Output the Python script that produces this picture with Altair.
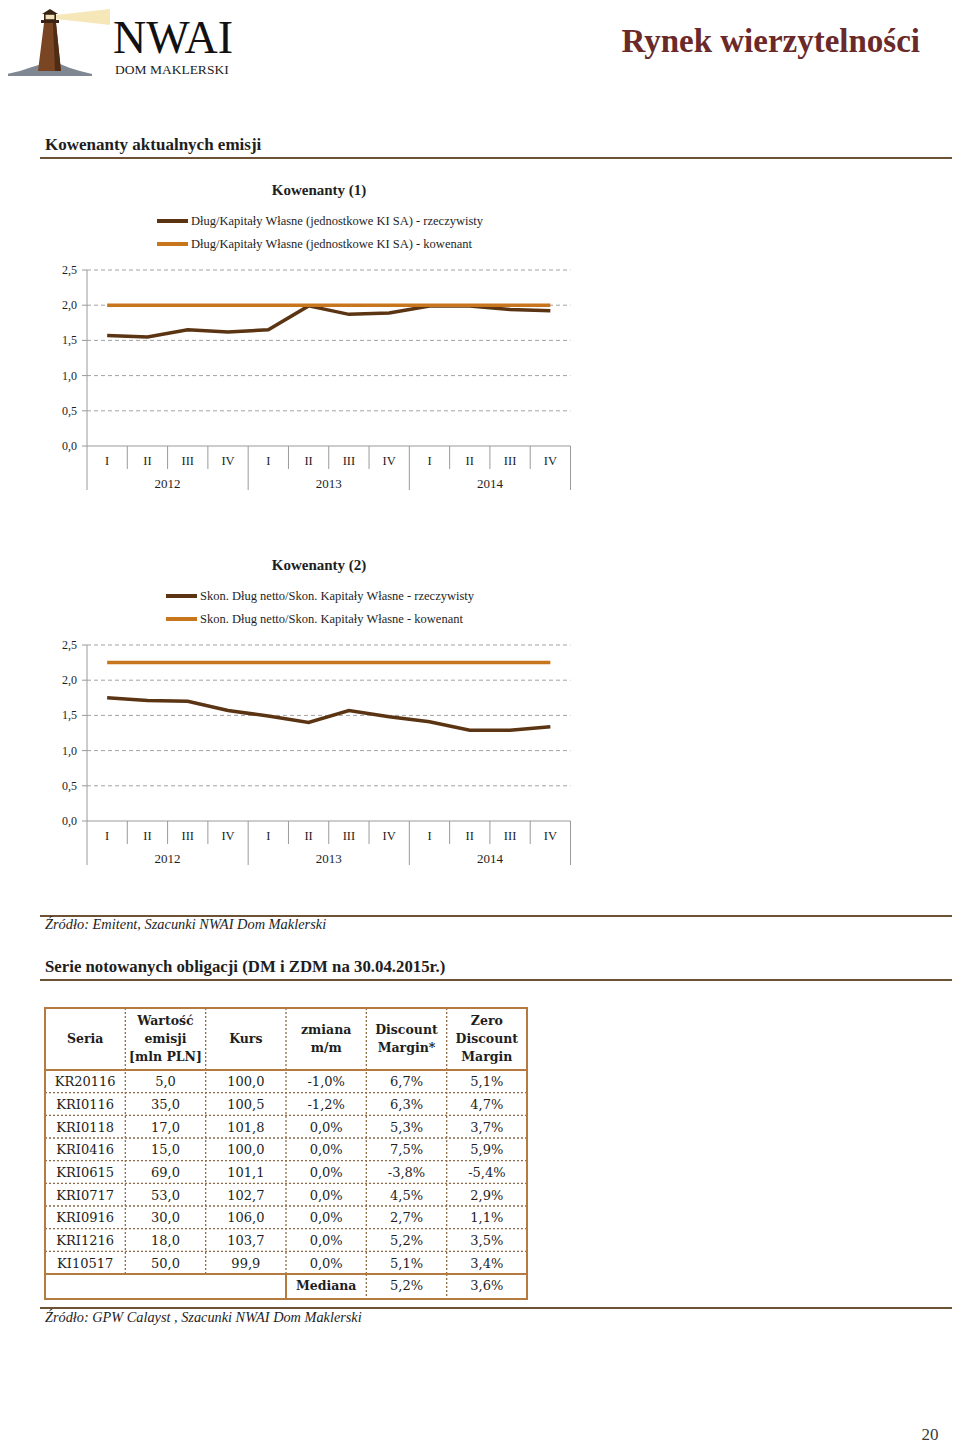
import altair as alt
import pandas as pd

# ---------------- data ----------------
quarters = ["I", "II", "III", "IV"] * 3
years = ["2012", "2013", "2014"]
y_ticks = [0.0, 0.5, 1.0, 1.5, 2.0, 2.5]

c1_title = "Kowenanty (1)"
c1_labels = ["Dług/Kapitały Własne (jednostkowe KI SA) - rzeczywisty",
             "Dług/Kapitały Własne (jednostkowe KI SA) - kowenant"]
c1_actual = [1.57, 1.55, 1.65, 1.62, 1.65, 1.99, 1.87, 1.89, 1.99, 1.99, 1.94, 1.92]
c1_cov = [2.0] * 12

c2_title = "Kowenanty (2)"
c2_labels = ["Skon. Dług netto/Skon. Kapitały Własne - rzeczywisty",
             "Skon. Dług netto/Skon. Kapitały Własne - kowenant"]
c2_actual = [1.75, 1.71, 1.70, 1.57, 1.49, 1.40, 1.57, 1.48, 1.41, 1.29, 1.29, 1.34]
c2_cov = [2.25] * 12

tbl_headers = [["Seria"], ["Wartość", "emisji", "[mln PLN]"], ["Kurs"],
               ["zmiana", "m/m"], ["Discount", "Margin*"], ["Zero", "Discount", "Margin"]]
seria = ["KR20116", "KRI0116", "KRI0118", "KRI0416", "KRI0615", "KRI0717", "KRI0916", "KRI1216", "KI10517"]
wartosc = [5.0, 35.0, 17.0, 15.0, 69.0, 53.0, 30.0, 18.0, 50.0]
kurs = [100.0, 100.5, 101.8, 100.0, 101.1, 102.7, 106.0, 103.7, 99.9]
zmiana = [-1.0, -1.2, 0.0, 0.0, 0.0, 0.0, 0.0, 0.0, 0.0]
dm = [6.7, 6.3, 5.3, 7.5, -3.8, 4.5, 2.7, 5.2, 5.1]
zdm = [5.1, 4.7, 3.7, 5.9, -5.4, 2.9, 1.1, 3.5, 3.4]
median_label = "Mediana"
median_dm = 5.2
median_zdm = 3.6

page_title = "Rynek wierzytelności"
section1 = "Kowenanty aktualnych emisji"
source1 = "Źródło: Emitent, Szacunki NWAI Dom Maklerski"
section2 = "Serie notowanych obligacji (DM i ZDM na 30.04.2015r.)"
source2 = "Źródło: GPW Calayst , Szacunki NWAI Dom Maklerski"
page_no = "20"

# ---------------- styles ----------------
SERIF = "Liberation Serif"
TSERIF = "DejaVu Serif"
DARK = "#5b3413"
ORANGE = "#c8761e"
GRID = "#a3a3a3"
AXIS = "#9a9a9a"
TEXT = "#1e1e1e"
RULE = "#6e5236"
MAROON = "#6b2a2a"
BORDER = "#b57a40"
DASH = "#8c6a48"

OX, OY = 8, 8


def px(x):
    return x - OX


def py(y):
    return y - OY


one = pd.DataFrame({"k": [0]})


def fmt1(v):
    return f"{v:.1f}".replace(".", ",")


def pct(v):
    return f"{v:.1f}%".replace(".", ",")


def text_at(s, x, y, size, weight="normal", style="normal", align="left",
            color=TEXT, font=SERIF, baseline="middle"):
    return alt.Chart(one).mark_text(
        text=s, fontSize=size, fontWeight=weight, fontStyle=style, align=align,
        baseline=baseline, color=color, font=font
    ).encode(x=alt.value(px(x)), y=alt.value(py(y)))


def hrule(y, x1, x2, color, width, dash=None):
    m = dict(color=color, strokeWidth=width)
    if dash:
        m["strokeDash"] = dash
    return alt.Chart(one).mark_rule(**m).encode(
        x=alt.value(px(x1)), x2=alt.value(px(x2)), y=alt.value(py(y)))


def shape_at(path, cx, cy, side, color, opacity=1.0):
    return alt.Chart(one).mark_point(
        shape=path, size=side * side, filled=True, color=color,
        opacity=opacity, strokeWidth=0
    ).encode(x=alt.value(px(cx)), y=alt.value(py(cy)))


layers = []

# ---------------- header / logo ----------------
layers.append(shape_at("M -0.964 -0.071 L 0.964 -0.286 L 0.964 0.286 L -0.964 0.071 Z",
                       83, 17, 56, "#f3dfa2", 0.75))
layers.append(shape_at("M -0.911 0.089 L -0.622 0.022 L -0.356 -0.067 L -0.133 -0.133 "
                       "L 0.267 -0.133 L 0.489 -0.044 L 0.711 0.022 L 0.978 0.089 "
                       "L 0.978 0.133 L -0.911 0.133 Z", 48, 70, 90, "#7f8792"))
layers.append(shape_at("M -0.3 0.775 L -0.15 -0.425 L 0.15 -0.425 L 0.275 0.775 Z",
                       50, 40, 80, "#7a4522"))
layers.append(shape_at("M 0.075 -0.425 L 0.15 -0.425 L 0.275 0.775 L 0.125 0.775 Z",
                       50, 40, 80, "#4f2c14"))
layers.append(shape_at("M -0.225 -0.5 L 0.225 -0.5 L 0.225 -0.425 L -0.225 -0.425 Z",
                       50, 40, 80, "#3b2414"))
layers.append(shape_at("M -0.15 -0.65 L 0.15 -0.65 L 0.15 -0.5 L -0.15 -0.5 Z",
                       50, 40, 80, "#3b2414"))
layers.append(shape_at("M -0.11 -0.63 L 0.11 -0.63 L 0.11 -0.52 L -0.11 -0.52 Z",
                       50, 40, 80, "#efe2b8"))
layers.append(shape_at("M -0.2 -0.65 L 0.2 -0.65 L 0 -0.775 Z",
                       50, 40, 80, "#3b2414"))
layers.append(text_at("NWAI", 113, 53, 46, color="#111111", baseline="alphabetic"))
layers.append(text_at("DOM MAKLERSKI", 115, 74, 13.5, color="#222222", baseline="alphabetic"))
layers.append(text_at(page_title, 920, 52, 33, weight="bold", align="right",
                      color=MAROON, baseline="alphabetic"))

# ---------------- sections ----------------
layers.append(text_at(section1, 45, 145, 17, weight="bold"))
layers.append(hrule(158, 40, 960, RULE, 2))
layers.append(hrule(916, 40, 960, RULE, 2))
layers.append(text_at(source1, 45, 925, 14.4, style="italic"))
layers.append(text_at(section2, 45, 967, 16.8, weight="bold"))
layers.append(hrule(980, 40, 960, RULE, 2))
layers.append(hrule(1308, 40, 960, RULE, 2))
layers.append(text_at(source2, 45, 1318, 14.3, style="italic"))
layers.append(text_at(page_no, 930, 1440, 17, align="center", color="#3a3a3a",
                      baseline="alphabetic"))


# ---------------- covenant charts ----------------
def covenant_chart(off, title, labels, actual, cov, leg_x):
    out = []
    xs = alt.Scale(domain=[0, 12], range=[px(87), px(570.5)])
    ys = alt.Scale(domain=[0, 2.5], range=[py(446 + off), py(270 + off)])
    df = pd.DataFrame({"i": list(range(12)), "q": quarters, "a": actual, "c": cov})
    X = alt.X("pos:Q", scale=xs, axis=None)

    out.append(text_at(title, 319, 190 + off, 15, weight="bold", align="center"))
    for k, (lab, col) in enumerate(zip(labels, [DARK, ORANGE])):
        yy = 221 + off + 23 * k
        out.append(hrule(yy, leg_x, leg_x + 31, col, 4))
        out.append(text_at(lab, leg_x + 34, yy, 12.5))

    g = pd.DataFrame({"v": y_ticks, "lbl": [fmt1(v) for v in y_ticks]})
    out.append(alt.Chart(g[g.v > 0]).mark_rule(color=GRID, strokeDash=[4, 3], strokeWidth=1).encode(
        y=alt.Y("v:Q", scale=ys, axis=None),
        x=alt.XDatum(0, type="quantitative", scale=xs, axis=None),
        x2=alt.X2Datum(12)))
    out.append(alt.Chart(g).mark_rule(color=AXIS, strokeWidth=1).encode(
        y=alt.Y("v:Q", scale=ys, axis=None),
        x=alt.value(px(82)), x2=alt.value(px(87))))
    out.append(alt.Chart(g).mark_text(align="right", baseline="middle", fontSize=12,
                                      font=SERIF, color=TEXT).encode(
        y=alt.Y("v:Q", scale=ys, axis=None), x=alt.value(px(77)), text="lbl:N"))
    # y axis line
    out.append(alt.Chart(one).mark_rule(color=AXIS, strokeWidth=1).encode(
        x=alt.XDatum(0, type="quantitative", scale=xs, axis=None),
        y=alt.YDatum(0, type="quantitative", scale=ys, axis=None),
        y2=alt.Y2Datum(2.5)))
    # baseline
    out.append(alt.Chart(one).mark_rule(color=AXIS, strokeWidth=1).encode(
        y=alt.YDatum(0, type="quantitative", scale=ys, axis=None),
        x=alt.XDatum(0, type="quantitative", scale=xs, axis=None),
        x2=alt.X2Datum(12)))
    # separators
    qb = pd.DataFrame({"b": [i for i in range(1, 12) if i % 4]})
    yb = pd.DataFrame({"b": [0, 4, 8, 12]})
    out.append(alt.Chart(qb).mark_rule(color=AXIS, strokeWidth=1).encode(
        x=alt.X("b:Q", scale=xs, axis=None),
        y=alt.value(py(446 + off)), y2=alt.value(py(469 + off))))
    out.append(alt.Chart(yb).mark_rule(color=AXIS, strokeWidth=1).encode(
        x=alt.X("b:Q", scale=xs, axis=None),
        y=alt.value(py(446 + off)), y2=alt.value(py(490 + off))))
    # labels
    out.append(alt.Chart(df).transform_calculate(pos="datum.i + 0.5").mark_text(
        fontSize=12.5, font=SERIF, color=TEXT, baseline="middle").encode(
        x=X, y=alt.value(py(461 + off)), text="q:N"))
    ydf = pd.DataFrame({"k": list(range(3)), "yr": years})
    out.append(alt.Chart(ydf).transform_calculate(pos="datum.k * 4 + 2").mark_text(
        fontSize=13, font=SERIF, color=TEXT, baseline="middle").encode(
        x=X, y=alt.value(py(484 + off)), text="yr:N"))
    # series
    out.append(alt.Chart(df).transform_calculate(pos="datum.i + 0.5").mark_line(
        color=DARK, strokeWidth=3.5).encode(x=X, y=alt.Y("a:Q", scale=ys, axis=None)))
    out.append(alt.Chart(df).transform_calculate(pos="datum.i + 0.5").mark_line(
        color=ORANGE, strokeWidth=3.5).encode(x=X, y=alt.Y("c:Q", scale=ys, axis=None)))
    return out


layers += covenant_chart(0, c1_title, c1_labels, c1_actual, c1_cov, 157)
layers += covenant_chart(375, c2_title, c2_labels, c2_actual, c2_cov, 166)

# ---------------- table ----------------
cs = alt.Scale(domain=[0, 6], range=[px(45), px(527)])
rs = alt.Scale(domain=[0, 9], range=[py(1070), py(1274)])
CX = alt.X("cx:Q", scale=cs, axis=None)
RY = alt.Y("ry:Q", scale=rs, axis=None)

# dashed row separators
rb = pd.DataFrame({"b": list(range(1, len(seria)))})
layers.append(alt.Chart(rb).mark_rule(color=DASH, strokeDash=[2, 2], strokeWidth=1.3).encode(
    y=alt.Y("b:Q", scale=rs, axis=None),
    x=alt.XDatum(0, type="quantitative", scale=cs, axis=None), x2=alt.X2Datum(6)))
# dashed column separators header+data
cb = pd.DataFrame({"b": [1, 2, 3, 4, 5]})
layers.append(alt.Chart(cb).mark_rule(color=DASH, strokeDash=[2, 2], strokeWidth=1.3).encode(
    x=alt.X("b:Q", scale=cs, axis=None),
    y=alt.value(py(1008)), y2=alt.value(py(1274))))
# median row separators
mb = pd.DataFrame({"b": [4, 5]})
layers.append(alt.Chart(mb).mark_rule(color=DASH, strokeDash=[2, 2], strokeWidth=1.3).encode(
    x=alt.X("b:Q", scale=cs, axis=None),
    y=alt.value(py(1274)), y2=alt.value(py(1299))))
layers.append(alt.Chart(one).mark_rule(color=BORDER, strokeWidth=2).encode(
    x=alt.XDatum(3, type="quantitative", scale=cs, axis=None),
    y=alt.value(py(1274)), y2=alt.value(py(1299))))
# solid header bottom and median top
hb = pd.DataFrame({"b": [0, len(seria)]})
layers.append(alt.Chart(hb).mark_rule(color=BORDER, strokeWidth=2).encode(
    y=alt.Y("b:Q", scale=rs, axis=None),
    x=alt.XDatum(0, type="quantitative", scale=cs, axis=None), x2=alt.X2Datum(6)))
# outer box
layers.append(alt.Chart(one).mark_rect(fillOpacity=0, stroke=BORDER, strokeWidth=2).encode(
    x=alt.XDatum(0, type="quantitative", scale=cs, axis=None), x2=alt.X2Datum(6),
    y=alt.value(py(1008)), y2=alt.value(py(1299))))

# header text: one row per line, centred vertically in the header band
hrows = []
for c, h in enumerate(tbl_headers):
    for j, line in enumerate(h):
        hrows.append({"c": c, "t": line, "j": j, "n": len(h)})
hdf = pd.DataFrame(hrows)
hs = alt.Scale(domain=[-1, 1], range=[py(1021), py(1057)])
layers.append(alt.Chart(hdf).transform_calculate(
    cx="datum.c + 0.5", hy="datum.j - (datum.n - 1) / 2").mark_text(
    fontWeight="bold", fontSize=12.5, font=TSERIF,
    color=TEXT, baseline="middle", align="center").encode(
    x=CX, y=alt.Y("hy:Q", scale=hs, axis=None), text="t:N"))

# body cells
cells = []
for r in range(len(seria)):
    row = [seria[r], fmt1(wartosc[r]), fmt1(kurs[r]), pct(zmiana[r]), pct(dm[r]), pct(zdm[r])]
    for c, t in enumerate(row):
        cells.append({"r": r, "c": c, "t": t})
cdf = pd.DataFrame(cells)
layers.append(alt.Chart(cdf).transform_calculate(cx="datum.c + 0.5", ry="datum.r + 0.5").mark_text(
    fontSize=13, font=TSERIF, color=TEXT, baseline="middle", align="center", dy=1).encode(
    x=CX, y=RY, text="t:N"))

# median row
mdf_b = pd.DataFrame({"r": [len(seria)], "c": [3], "t": [median_label]})
mdf_n = pd.DataFrame({"r": [len(seria)] * 2, "c": [4, 5], "t": [pct(median_dm), pct(median_zdm)]})
layers.append(alt.Chart(mdf_b).transform_calculate(cx="datum.c + 0.5", ry="datum.r + 0.55").mark_text(
    fontSize=12.5, fontWeight="bold", font=TSERIF, color=TEXT, baseline="middle", align="center").encode(
    x=CX, y=RY, text="t:N"))
layers.append(alt.Chart(mdf_n).transform_calculate(cx="datum.c + 0.5", ry="datum.r + 0.55").mark_text(
    fontSize=13, font=TSERIF, color=TEXT, baseline="middle", align="center").encode(
    x=CX, y=RY, text="t:N"))

chart = alt.layer(*layers).resolve_scale(
    x="independent", y="independent"
).properties(
    width=944, height=1437, autosize=alt.AutoSizeParams(type="none"), padding=0,
    background="white"
).configure_view(strokeWidth=0)

chart.save("out.html", embed_options={"renderer": "svg", "actions": False})
